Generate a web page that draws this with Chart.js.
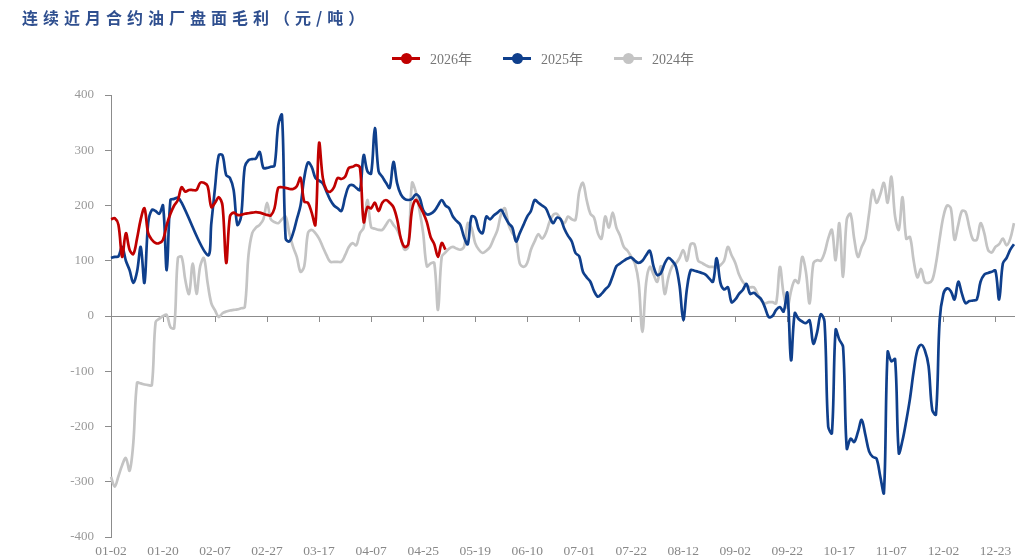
<!DOCTYPE html>
<html lang="zh-CN">
<head>
<meta charset="utf-8">
<title>连续近月合约油厂盘面毛利</title>
<script src="https://cdn.jsdelivr.net/npm/chart.js@4.4.1/dist/chart.umd.min.js"></script>
<style>
  html, body { margin: 0; padding: 0; background: #fff; }
  #wrap { position: relative; width: 1020px; height: 557px; overflow: hidden; }
  #title {
    position: absolute; left: 22px; top: 5px;
    font-family: "Noto Sans CJK SC", sans-serif; font-weight: 700;
    font-size: 16px; letter-spacing: 5px; color: #2f4f8f; white-space: nowrap;
  }
  #legend {
    position: absolute; left: 392px; top: 48px; display: flex; gap: 31px;
    font-family: "Liberation Serif", "Times New Roman", serif; font-size: 14px; color: #777;
  }
  .item { display: flex; align-items: center; height: 20px; }
  .mk { position: relative; width: 28px; height: 12px; margin-right: 10px; }
  .mk .ln { position: absolute; left: 0; right: 0; top: 5px; height: 2.5px; }
  .mk .dot { position: absolute; left: 8.5px; top: 0.5px; width: 11px; height: 11px; border-radius: 50%; }
  canvas { position: absolute; left: 0; top: 0; }
</style>
</head>
<body>
<div id="wrap">
  <canvas id="chart" width="1020" height="557"></canvas>
  <div id="title">连续近月合约油厂盘面毛利（元/吨）</div>
  <div id="legend"></div>
</div>
<script>
// Axis tick labels (one every 14 trading days)
const tickLabels = ['01-02','01-20','02-07','02-27','03-17','04-07','04-25','05-19','06-10',
                    '07-01','07-22','08-12','09-02','09-22','10-17','11-07','12-02','12-23'];
const tickEvery = 14;

const seriesNames = ['2026年', '2025年', '2024年'];
const seriesColors = ['#c00000', '#0f3f8c', '#c4c4c4'];

// Gross margin, yuan per tonne, by trading day
const margin2026 = [
  175,177,165,107,150,120,112,140,175,195,
  150,138,132,132,138,165,185,200,210,233,
  225,228,228,228,241,241,235,197,205,215,
  200,96,180,187,183,183,185,186,187,188,
  187,185,183,182,195,232,233,232,230,230,
  235,250,207,205,187,165,313,250,228,225,
  233,250,248,252,268,270,273,268,170,197,
  195,205,190,205,210,205,197,175,140,125,
  130,192,210,200,187,170,143,130,107,132,
  120
];

const margin2025 = [
  105,107,108,125,100,83,60,80,125,60,
  168,192,190,185,200,83,210,212,214,205,
  null,null,null,null,null,null,110,168,233,291,
  291,255,250,228,165,180,270,282,284,285,
  297,268,268,270,272,345,364,140,135,150,
  175,200,250,278,270,250,245,240,225,210,
  200,195,190,215,235,237,232,228,291,262,
  258,340,262,252,241,232,279,240,220,212,
  210,212,220,215,192,184,185,190,200,210,
  200,195,180,172,165,143,130,180,178,156,
  150,180,175,182,187,192,180,168,160,135,
  150,165,180,190,210,205,200,195,180,168,
  178,175,158,145,135,114,108,80,70,62,
  45,35,40,48,55,72,90,95,100,104,
  106,100,96,100,110,118,90,74,78,95,
  105,100,90,55,-7,50,83,82,80,78,
  75,68,62,105,60,48,52,25,30,40,
  47,58,40,42,36,30,15,-2,0,11,
  16,8,42,-80,5,-5,-10,-13,-8,-50,
  -30,3,-10,-200,-212,-25,-43,-56,-240,-222,
  -228,-210,-188,-215,-245,-255,-258,-290,-320,-65,
  -82,-78,-248,-225,-190,-150,-100,-62,-52,-62,
  -90,-170,-178,-7,40,50,45,30,62,40,
  23,27,28,30,62,75,78,80,82,30,
  95,105,120,130
];

const margin2024 = [
  -291,-309,-290,-270,-257,-280,-230,-121,-122,-124,
  -125,-125,-11,-5,0,2,-20,-22,105,107,
  65,40,95,40,90,105,60,23,10,-2,
  5,8,10,11,12,14,16,110,150,160,
  165,175,205,175,170,168,175,180,150,125,
  107,80,90,150,156,150,140,125,110,98,
  98,98,98,110,125,132,128,150,160,210,
  161,158,156,156,165,174,165,156,140,120,
  125,241,225,192,150,90,95,96,11,107,
  115,122,125,122,120,125,168,160,132,120,
  114,118,125,140,156,185,195,165,150,140,
  95,89,96,120,135,148,140,150,170,183,
  185,175,168,180,175,174,225,241,210,185,
  178,150,140,180,160,187,160,145,125,118,
  107,95,60,-29,60,89,75,62,90,40,
  70,90,95,105,119,100,130,130,100,96,
  92,89,89,88,92,100,125,110,96,75,
  62,55,52,52,40,28,23,25,25,23,
  89,40,15,45,65,60,107,80,23,95,
  101,100,114,140,156,101,168,71,175,185,
  140,107,125,140,185,228,205,220,241,205,
  252,180,156,215,140,143,100,70,85,62,
  60,65,95,140,180,200,195,138,165,190,
  188,160,138,138,168,150,120,115,125,130,
  140,128,140,168
];

// Category axis: one slot per trading day, labelled every 14th day
const categories = margin2025.map((_, i) => (i % tickEvery === 0 ? (tickLabels[i / tickEvery] || '') : ''));

const axisGrey = '#8c8c8c';
const serif = '"Liberation Serif", "Times New Roman", serif';

const seriesData = [margin2026, margin2025, margin2024];
const datasets = seriesData.map((d, k) => ({
  label: seriesNames[k],
  data: d,
  borderColor: seriesColors[k],
  backgroundColor: seriesColors[k],
  borderWidth: 2.7,
  pointRadius: 0,
  pointHoverRadius: 0,
  tension: 0.35,
  spanGaps: true,
  fill: false
}));

const chart = new Chart(document.getElementById('chart'), {
  type: 'line',
  data: { labels: categories, datasets },
  options: {
    responsive: false,
    animation: false,
    layout: { padding: { top: 95, right: 1, bottom: 0, left: 0 } },
    plugins: { legend: { display: false }, tooltip: { enabled: false } },
    scales: {
      x: {
        type: 'category',
        position: 'bottom',
        grid: { display: false, drawTicks: false },
        border: { display: false },
        ticks: {
          autoSkip: false, maxRotation: 0, minRotation: 0, padding: 6,
          color: '#888', font: { family: serif, size: 13.5 },
          callback: (v, i) => categories[i]
        },
        afterFit: s => { s.height = 20; }
      },
      x0: {
        type: 'category',
        axis: 'x',
        position: { y: 0 },
        grid: {
          drawOnChartArea: false, drawTicks: true, tickLength: 5,
          tickColor: c => (categories[c.index] ? axisGrey : 'rgba(0,0,0,0)')
        },
        border: { display: true, color: axisGrey, width: 1 },
        ticks: { display: false, autoSkip: false }
      },
      y: {
        min: -400, max: 400,
        ticks: { stepSize: 100, padding: 11, color: '#999', font: { family: serif, size: 13 } },
        grid: { drawOnChartArea: false, drawTicks: true, tickLength: 6, tickColor: axisGrey },
        border: { display: true, color: axisGrey, width: 1 },
        afterFit: s => { s.width = 111; }
      }
    }
  }
});

// Legend built from the datasets
const legend = document.getElementById('legend');
chart.data.datasets.forEach(ds => {
  const item = document.createElement('div');
  item.className = 'item';
  const mk = document.createElement('span');
  mk.className = 'mk';
  const ln = document.createElement('span');
  ln.className = 'ln';
  ln.style.background = ds.borderColor;
  const dot = document.createElement('span');
  dot.className = 'dot';
  dot.style.background = ds.borderColor;
  mk.appendChild(ln); mk.appendChild(dot);
  const txt = document.createElement('span');
  txt.textContent = ds.label;
  item.appendChild(mk); item.appendChild(txt);
  legend.appendChild(item);
});
</script>
</body>
</html>
